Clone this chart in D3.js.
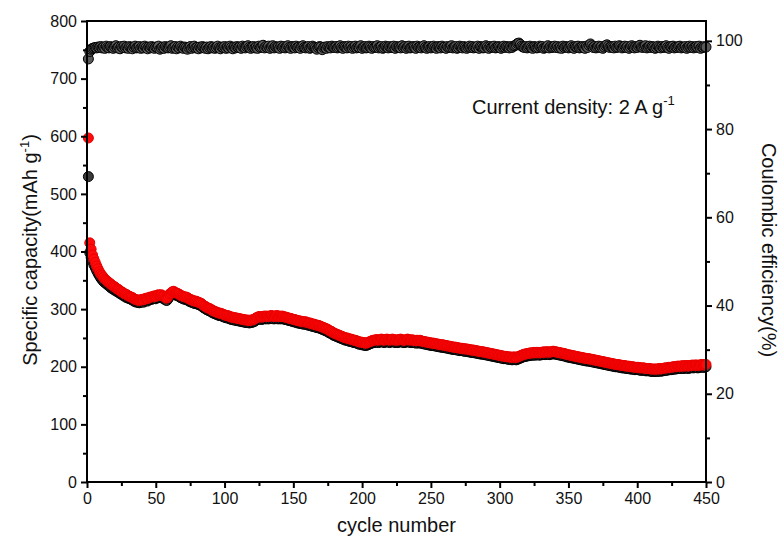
<!DOCTYPE html>
<html>
<head>
<meta charset="utf-8">
<script src="https://cdn.jsdelivr.net/npm/d3@7"></script>
<style>
  body { margin: 0; background: #fff; }
  text { font-family: "Liberation Sans", Arial, sans-serif; fill: #111; }
</style>
</head>
<body>
<svg id="chart" width="782" height="540"></svg>
<script>
// discharge capacity (red), mAh/g, one value per cycle
const capRed = [
  597,415,404,394,387,381,375,370,365,361, 358,355,352,350,348,346,344,342,340,339,
  337,335,334,332,330,329,327,326,325,323, 322,321,320,318,317,316,316,315,316,317,
  316,318,319,318,320,321,321,322,323,322, 324,325,324,325,323,322,320,319,322,326,
  328,330,331,329,328,327,326,324,323,322, 321,321,320,318,317,316,315,314,314,313,
  312,311,310,308,306,305,303,302,301,300, 298,297,296,295,294,293,293,292,291,290,
  289,289,288,287,286,286,285,285,284,284, 283,283,282,282,281,281,281,280,281,281,
  282,283,285,286,287,287,286,287,288,287, 288,287,288,289,288,287,288,289,287,288,
  287,288,287,286,286,285,284,284,283,282, 282,281,280,280,279,279,278,278,278,277,
  276,276,275,274,274,273,272,272,271,270, 269,268,267,266,265,263,262,261,259,258,
  257,256,255,254,253,252,251,250,250,249, 248,248,247,246,246,245,244,243,243,242,
  242,241,241,242,243,244,245,246,246,247, 247,246,247,248,247,246,247,248,247,246,
  247,248,247,246,247,246,247,248,247,246, 246,247,248,247,246,247,246,246,245,246,
  245,246,245,244,244,243,243,242,242,241, 241,241,240,240,239,239,238,238,238,237,
  237,236,236,235,235,234,234,234,233,233, 232,232,232,231,231,231,230,230,229,229,
  229,228,228,227,227,226,226,226,225,225, 224,224,223,223,222,222,221,221,220,220,
  219,219,218,218,218,217,217,217,216,217, 217,216,217,218,219,220,221,222,222,223,
  223,224,224,224,225,224,225,225,224,225, 225,226,225,226,226,225,226,226,227,226,
  226,225,225,224,224,223,223,222,221,221, 220,220,219,219,218,218,217,217,216,216,
  215,215,214,214,214,213,213,212,212,211, 211,210,210,209,209,208,208,207,207,206,
  206,205,205,204,204,204,203,203,202,202, 202,201,201,201,200,200,200,199,199,199,
  199,198,198,198,198,197,197,197,197,196, 196,196,196,196,196,197,196,197,197,198,
  198,198,199,199,199,200,200,200,201,201, 201,201,202,201,202,202,201,202,202,203,
  202,203,203,202,203,203,204,203,203,204
];

// charge capacity (black), mAh/g
const capBlack = [
  530,398,390,383,377,372,367,362,358,354, 351,348,346,344,342,340,338,336,335,333,
  332,330,329,327,326,324,323,321,320,319, 318,317,316,314,313,312,312,311,312,313,
  312,314,315,314,316,317,317,318,319,318, 320,321,320,321,319,318,316,315,318,322,
  324,326,327,325,324,323,322,320,319,318, 317,317,316,314,313,312,311,310,310,309,
  308,307,306,304,302,301,299,298,297,296, 294,293,292,291,290,289,289,288,287,286,
  285,285,284,283,282,282,281,281,280,280, 279,279,278,278,277,277,277,276,277,277,
  278,279,281,282,283,283,282,283,284,283, 284,283,284,285,284,283,284,285,283,284,
  283,284,283,282,282,281,280,280,279,278, 278,277,276,276,275,275,274,274,274,273,
  272,272,271,270,270,269,268,268,267,266, 265,264,263,262,261,259,258,257,255,254,
  253,252,251,250,249,248,247,246,246,245, 244,244,243,242,242,241,240,239,239,238,
  238,237,237,238,239,240,241,242,242,243, 243,242,243,244,243,242,243,244,243,242,
  243,244,243,242,243,242,243,244,243,242, 242,243,244,243,242,243,242,242,241,242,
  241,242,241,240,240,239,239,238,238,237, 237,237,236,236,235,235,234,234,234,233,
  233,232,232,231,231,230,230,230,229,229, 228,228,228,227,227,227,226,226,225,225,
  225,224,224,223,223,222,222,222,221,221, 220,220,219,219,218,218,217,217,216,216,
  215,215,214,214,214,213,213,213,212,213, 213,212,213,214,215,216,217,218,218,219,
  219,220,220,220,221,220,221,221,220,221, 221,222,221,222,222,221,222,222,223,222,
  222,221,221,220,220,219,219,218,217,217, 216,216,215,215,214,214,213,213,212,212,
  211,211,210,210,210,209,209,208,208,207, 207,206,206,205,205,204,204,203,203,202,
  202,201,201,200,200,200,199,199,198,198, 198,197,197,197,196,196,196,195,195,195,
  195,194,194,194,194,193,193,193,193,192, 192,192,192,192,192,193,192,193,193,194,
  194,194,195,195,195,196,196,196,197,197, 197,197,198,197,198,198,197,198,198,199,
  198,199,199,198,199,199,200,199,199,200
];

// coulombic efficiency (black, right axis), %
const coulombic = [
  95.9,97.6,98.1,98.3,98.4,98.5,98.4,98.6,98.5,98.7, 98.4,98.6,98.3,98.8,98.5,98.4,98.7,98.5,98.3,98.6,
  98.9,98.4,98.6,98.2,98.7,98.5,98.8,98.4,98.6,98.3, 98.7,98.5,98.2,98.6,98.8,98.4,98.5,98.7,98.3,98.6,
  98.4,98.8,98.5,98.2,98.6,98.4,98.7,98.5,98.3,98.6, 98.5,98.8,98.1,98.4,98.6,98.3,98.7,98.5,98.4,98.6,
  98.9,98.3,98.5,98.7,98.2,98.6,98.4,98.8,98.5,98.3, 98.6,98.4,98.1,98.5,98.7,98.3,98.6,98.8,98.4,98.5,
  98.2,98.6,98.4,98.7,98.5,98.3,98.6,98.2,98.5,98.7, 98.4,98.6,98.3,98.5,98.8,98.4,98.2,98.6,98.5,98.7,
  98.3,98.6,98.4,98.8,98.5,98.2,98.6,98.4,98.7,98.5, 98.6,98.3,98.8,98.5,98.4,98.7,98.9,98.5,98.3,98.6,
  98.7,98.4,98.6,98.3,98.8,98.5,98.6,99.0,98.4,98.7, 98.5,98.8,98.3,98.6,98.9,98.4,98.7,98.5,98.6,98.3,
  98.8,98.5,98.7,98.4,98.6,98.9,98.5,98.3,98.7,98.6, 98.4,98.8,98.5,98.6,98.3,98.7,98.9,98.5,98.4,98.6,
  98.7,98.3,98.5,98.8,98.6,98.4,98.1,98.5,98.7,98.6, 98.0,98.5,98.6,98.3,98.7,98.5,98.4,98.8,98.6,98.5,
  98.7,98.4,98.6,98.9,98.5,98.3,98.7,98.6,98.4,98.8, 98.5,98.7,98.3,98.6,98.8,98.4,98.6,98.5,98.9,98.3,
  98.6,98.7,98.4,98.5,98.8,98.6,98.3,98.7,98.5,98.6, 98.9,98.4,98.6,98.7,98.3,98.5,98.8,98.6,98.4,98.7,
  98.5,98.6,98.8,98.3,98.7,98.5,98.6,98.4,98.9,98.5, 98.7,98.3,98.6,98.8,98.4,98.5,98.7,98.6,98.3,98.8,
  98.5,98.6,98.4,98.7,98.9,98.5,98.3,98.6,98.7,98.4, 98.6,98.8,98.5,98.3,98.7,98.6,98.4,98.8,98.5,98.6,
  98.3,98.7,98.5,98.6,98.9,98.4,98.6,98.7,98.3,98.5, 98.8,98.6,98.4,98.7,98.5,98.3,98.6,98.8,98.5,98.7,
  98.4,98.6,98.5,98.8,98.3,98.7,98.6,98.4,98.5,98.9, 98.6,98.3,98.7,98.5,98.6,98.8,98.4,98.5,98.7,98.6,
  98.3,98.6,98.8,98.5,98.7,98.6,98.4,98.7,98.5,98.8, 98.9,99.1,99.4,99.5,99.2,98.8,98.6,98.5,98.7,98.4,
  98.6,98.8,98.5,98.3,98.7,98.6,98.4,98.5,98.8,98.6, 98.7,98.3,98.5,98.6,98.9,98.4,98.7,98.5,98.6,98.8,
  98.5,98.7,98.4,98.6,98.3,98.8,98.5,98.7,98.6,98.4, 98.6,98.9,98.5,98.3,98.7,98.6,98.8,98.4,98.5,98.7,
  98.6,98.3,98.8,98.5,99.0,99.3,98.9,98.5,98.7,98.4, 98.6,98.8,98.5,98.7,98.3,98.6,98.9,99.1,98.8,98.5,
  98.7,98.6,98.4,98.8,98.5,98.6,98.9,98.7,98.4,98.6, 98.8,98.5,98.7,98.3,98.6,98.9,98.6,98.4,98.7,98.5,
  98.8,99.0,98.6,98.5,98.7,98.9,98.4,98.6,98.8,98.5, 98.7,98.6,98.3,98.5,98.8,98.6,98.4,98.7,98.5,98.6,
  98.9,98.5,98.3,98.7,98.6,98.8,98.4,98.6,98.5,98.7, 98.8,98.4,98.6,98.5,98.7,98.3,98.6,98.8,98.5,98.7,
  98.4,98.6,98.7,98.5,98.8,98.3,98.6,98.5,98.7,98.6
];

const cycles = d3.range(1, capRed.length + 1);

const xTicks = d3.range(0, 451, 50);
const xMinor = d3.range(25, 450, 50);
const yLeftTicks = d3.range(0, 801, 100);
const yLeftMinor = d3.range(50, 800, 100);
const yRightTicks = d3.range(0, 101, 20);
const yRightMinor = d3.range(10, 101, 20);

const plotLeft = 87, plotRight = 706, plotTop = 21, plotBottom = 482;

const svg = d3.select("#chart");

const x = d3.scaleLinear().domain([0, 450]).range([plotLeft, plotRight]);
const yL = d3.scaleLinear().domain([0, 800]).range([plotBottom, plotTop]);
const yR = d3.scaleLinear().domain([0, 104.5]).range([plotBottom, plotTop]);

// markers: black capacity under red, then CE
function dots(values, scale, fill, stroke) {
  svg.append("g").selectAll("circle")
    .data(values)
    .enter()
    .append("circle")
    .attr("cx", (d, i) => x(cycles[i]))
    .attr("cy", d => scale(d))
    .attr("r", 5)
    .attr("fill", fill)
    .attr("stroke", stroke)
    .attr("stroke-width", 1);
}
dots(capBlack, yL, "#3a3a3a", "#000");
dots(capRed, yL, "#ff0a0a", "#e80000");
dots(coulombic, yR, "#5a5a5a", "#000");

// axes
function styleAxis(g) {
  g.select(".domain").remove();
  g.selectAll(".tick line").attr("stroke", "#000").attr("stroke-width", 2);
  g.selectAll(".tick text").style("font-size", "16px").style("font-family", "Liberation Sans, Arial, sans-serif");
}

svg.append("g").attr("transform", `translate(0,${plotBottom})`)
  .call(d3.axisBottom(x).tickValues(xTicks).tickSize(6).tickPadding(5))
  .call(styleAxis);
svg.append("g").attr("transform", `translate(0,${plotBottom})`)
  .call(d3.axisBottom(x).tickValues(xMinor).tickSize(4).tickFormat(""))
  .call(styleAxis);

svg.append("g").attr("transform", `translate(${plotLeft},0)`)
  .call(d3.axisLeft(yL).tickValues(yLeftTicks).tickSize(6).tickPadding(4))
  .call(styleAxis);
svg.append("g").attr("transform", `translate(${plotLeft},0)`)
  .call(d3.axisLeft(yL).tickValues(yLeftMinor).tickSize(4).tickFormat(""))
  .call(styleAxis);

svg.append("g").attr("transform", `translate(${plotRight},0)`)
  .call(d3.axisRight(yR).tickValues(yRightTicks).tickSize(6).tickPadding(4))
  .call(styleAxis);
svg.append("g").attr("transform", `translate(${plotRight},0)`)
  .call(d3.axisRight(yR).tickValues(yRightMinor).tickSize(4).tickFormat(""))
  .call(styleAxis);

// frame
svg.append("rect")
  .attr("x", plotLeft).attr("y", plotTop)
  .attr("width", plotRight - plotLeft).attr("height", plotBottom - plotTop)
  .attr("fill", "none").attr("stroke", "#000").attr("stroke-width", 2);

// titles
svg.append("text")
  .attr("x", (plotLeft + plotRight) / 2).attr("y", 532)
  .attr("text-anchor", "middle").style("font-size", "20px")
  .text("cycle number");

const lt = svg.append("text")
  .attr("transform", "translate(37,250) rotate(-90)")
  .attr("text-anchor", "middle").style("font-size", "20px");
lt.append("tspan").text("Specific capacity(mAh g");
lt.append("tspan").attr("dy", -8).style("font-size", "13px").text("-1");
lt.append("tspan").attr("dy", 8).text(")");

svg.append("text")
  .attr("transform", "translate(762,250) rotate(90)")
  .attr("text-anchor", "middle").style("font-size", "20px")
  .text("Coulombic efficiency(%)");

const note = svg.append("text")
  .attr("x", 472).attr("y", 114)
  .style("font-size", "20px");
note.append("tspan").text("Current density: 2 A g");
note.append("tspan").attr("dy", -9).style("font-size", "13px").text("-1");
</script>
</body>
</html>
